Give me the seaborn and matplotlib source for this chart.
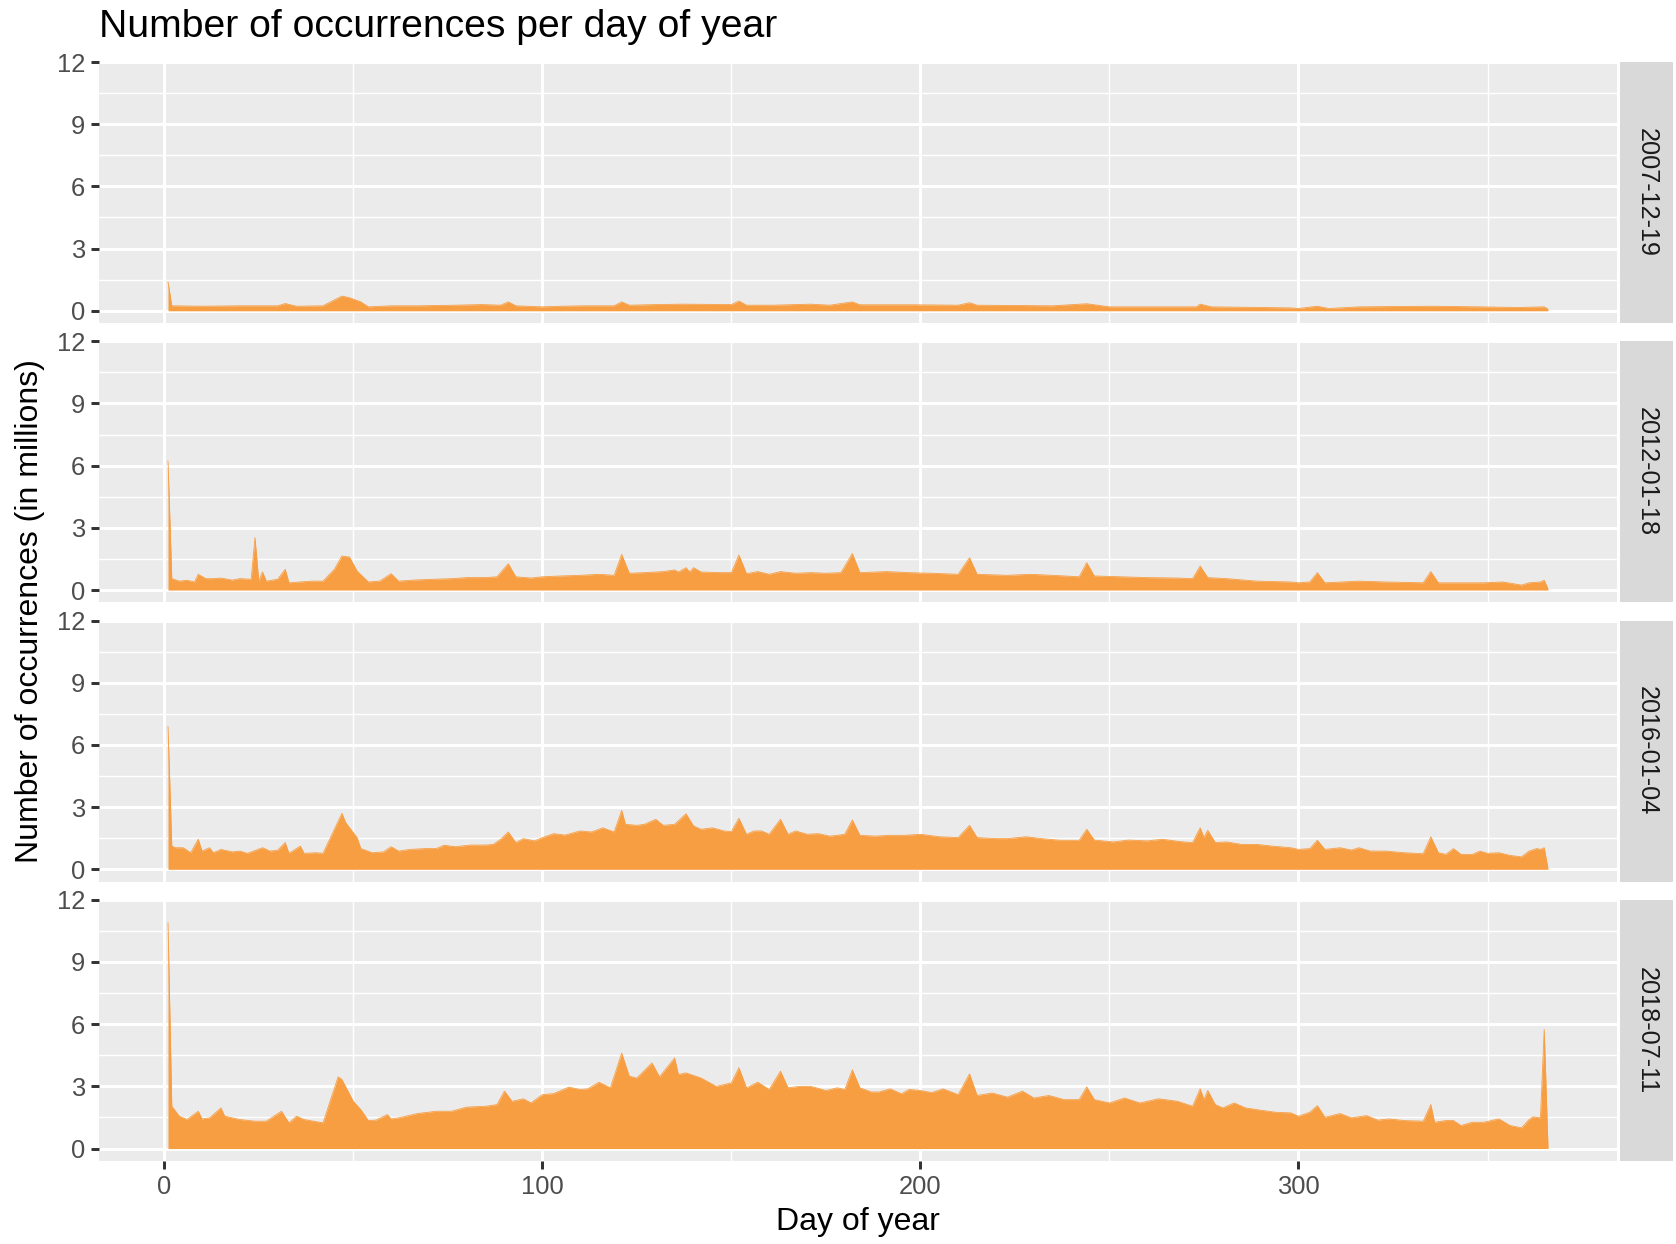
import matplotlib
matplotlib.use("Agg")
import matplotlib.pyplot as plt
from matplotlib.patches import Rectangle
from matplotlib.ticker import MultipleLocator
import seaborn as sns
import pandas as pd

# values (millions of occurrences per day of year)
dates = ["2007-12-19", "2012-01-18", "2016-01-04", "2018-07-11"]

days_2007 = [1, 2, 10, 20, 30, 32, 35, 42, 44, 47, 49, 52, 54, 60, 67, 77, 84, 89, 91, 93,
             100, 105, 111, 119, 121, 123, 130, 137, 150, 152, 154, 161, 171, 176, 182, 184,
             198, 210, 213, 215, 235, 244, 250, 273, 274, 277, 298, 300, 305, 308, 316, 335,
             348, 358, 365, 366]
vals_2007 = [1.4, 0.24, 0.22, 0.24, 0.24, 0.35, 0.22, 0.24, 0.43, 0.71, 0.63, 0.43, 0.19, 0.24,
             0.24, 0.27, 0.3, 0.27, 0.43, 0.24, 0.19, 0.22, 0.24, 0.24, 0.43, 0.27, 0.3, 0.32,
             0.3, 0.47, 0.27, 0.27, 0.32, 0.27, 0.43, 0.29, 0.29, 0.27, 0.39, 0.27, 0.24, 0.34,
             0.19, 0.19, 0.32, 0.19, 0.14, 0.11, 0.22, 0.11, 0.19, 0.22, 0.19, 0.16, 0.19, 0.08]

days_2012 = [1, 2, 4, 6, 8, 9, 11, 13, 15, 18, 20, 23, 24, 25, 26, 27, 30, 32, 33, 36, 39, 42,
             45, 47, 49, 51, 54, 57, 60, 62, 66, 71, 76, 80, 85, 88, 91, 93, 97, 100, 105, 110,
             115, 119, 121, 123, 127, 132, 135, 136, 138, 139, 140, 142, 147, 150, 152, 154,
             157, 160, 163, 167, 171, 175, 179, 182, 184, 191, 197, 203, 210, 213, 215, 223,
             229, 235, 242, 244, 246, 253, 260, 268, 272, 274, 276, 281, 289, 298, 300, 303,
             305, 307, 316, 323, 333, 335, 337, 343, 349, 354, 359, 361, 364, 365, 366]
vals_2012 = [6.23, 0.55, 0.43, 0.47, 0.39, 0.76, 0.55, 0.55, 0.58, 0.48, 0.55, 0.52, 2.53, 0.43,
             0.87, 0.43, 0.52, 1.0, 0.35, 0.39, 0.43, 0.43, 1.0, 1.64, 1.59, 0.92, 0.39, 0.43,
             0.79, 0.43, 0.48, 0.52, 0.55, 0.6, 0.6, 0.64, 1.27, 0.64, 0.58, 0.64, 0.68, 0.71,
             0.76, 0.71, 1.72, 0.81, 0.84, 0.89, 0.97, 0.87, 1.08, 0.87, 1.08, 0.87, 0.84, 0.84,
             1.69, 0.79, 0.89, 0.76, 0.89, 0.81, 0.84, 0.81, 0.84, 1.76, 0.84, 0.89, 0.84, 0.81,
             0.76, 1.56, 0.76, 0.71, 0.76, 0.71, 0.64, 1.32, 0.68, 0.64, 0.6, 0.58, 0.55, 1.16,
             0.6, 0.55, 0.43, 0.39, 0.35, 0.39, 0.84, 0.35, 0.43, 0.39, 0.35, 0.89, 0.35, 0.35,
             0.35, 0.39, 0.24, 0.35, 0.39, 0.47, 0.06]

days_2016 = [1, 2, 3, 5, 7, 9, 10, 12, 13, 15, 18, 20, 22, 26, 28, 30, 32, 33, 36, 37, 40, 42,
             45, 47, 48, 51, 52, 55, 58, 60, 62, 65, 69, 72, 74, 77, 81, 85, 87, 89, 91, 93, 95,
             98, 100, 103, 106, 110, 113, 116, 119, 121, 122, 125, 127, 130, 132, 135, 138, 140,
             142, 145, 148, 150, 152, 154, 156, 158, 160, 163, 165, 167, 170, 173, 176, 178, 180,
             182, 184, 188, 192, 196, 200, 205, 210, 213, 215, 220, 223, 228, 232, 237, 242, 244,
             246, 251, 255, 260, 264, 269, 272, 274, 275, 276, 278, 281, 285, 289, 293, 298, 300,
             303, 305, 307, 311, 314, 316, 319, 323, 328, 333, 335, 337, 339, 341, 343, 346, 348,
             350, 353, 356, 359, 361, 363, 364, 365, 366]
vals_2016 = [6.9, 1.12, 1.04, 1.04, 0.8, 1.45, 0.88, 1.04, 0.8, 0.96, 0.84, 0.88, 0.77, 1.04,
             0.88, 0.92, 1.29, 0.77, 1.12, 0.77, 0.8, 0.77, 1.93, 2.7, 2.25, 1.53, 1.0, 0.8, 0.84,
             1.09, 0.88, 0.96, 1.0, 1.0, 1.16, 1.09, 1.17, 1.17, 1.2, 1.45, 1.8, 1.29, 1.48, 1.37,
             1.53, 1.72, 1.65, 1.85, 1.8, 2.0, 1.8, 2.84, 2.17, 2.12, 2.17, 2.41, 2.12, 2.17, 2.68,
             2.09, 1.93, 2.0, 1.85, 1.82, 2.46, 1.69, 1.85, 1.85, 1.69, 2.41, 1.69, 1.85, 1.69,
             1.72, 1.6, 1.64, 1.69, 2.38, 1.64, 1.6, 1.64, 1.64, 1.69, 1.57, 1.53, 2.12, 1.53,
             1.48, 1.48, 1.57, 1.48, 1.4, 1.4, 1.93, 1.41, 1.32, 1.41, 1.37, 1.45, 1.33, 1.29, 2.0,
             1.53, 1.88, 1.29, 1.32, 1.2, 1.2, 1.12, 1.04, 0.96, 1.0, 1.4, 0.96, 1.04, 0.93, 1.04,
             0.88, 0.88, 0.8, 0.75, 1.57, 0.8, 0.72, 1.0, 0.72, 0.72, 0.88, 0.77, 0.8, 0.67, 0.6,
             0.88, 1.0, 0.96, 1.04, 0.03]

days_2018 = [1, 2, 4, 6, 9, 10, 12, 15, 16, 20, 24, 27, 31, 33, 35, 37, 42, 46, 47, 50, 52, 54,
             56, 59, 60, 62, 67, 72, 76, 80, 85, 88, 90, 92, 95, 97, 100, 103, 107, 110, 112, 115,
             118, 121, 123, 125, 129, 131, 135, 136, 138, 142, 146, 150, 152, 154, 157, 160, 163,
             165, 168, 171, 175, 178, 180, 182, 184, 187, 189, 192, 195, 197, 200, 203, 206, 210,
             213, 215, 219, 223, 227, 230, 234, 238, 242, 244, 246, 250, 254, 258, 263, 268, 272,
             274, 275, 276, 278, 280, 283, 286, 290, 294, 298, 300, 303, 305, 307, 311, 314, 318,
             321, 324, 328, 333, 335, 336, 339, 341, 343, 346, 349, 353, 356, 359, 361, 362, 364,
             365, 366]
vals_2018 = [10.9, 2.04, 1.56, 1.4, 1.8, 1.43, 1.48, 1.96, 1.56, 1.4, 1.32, 1.32, 1.8, 1.24,
             1.56, 1.4, 1.24, 3.46, 3.33, 2.28, 1.88, 1.35, 1.37, 1.64, 1.43, 1.48, 1.69, 1.8, 1.8,
             2.0, 2.04, 2.12, 2.77, 2.28, 2.4, 2.2, 2.6, 2.65, 2.96, 2.85, 2.88, 3.2, 2.93, 4.6,
             3.49, 3.4, 4.13, 3.46, 4.37, 3.57, 3.65, 3.4, 3.0, 3.17, 3.9, 2.93, 3.2, 2.85, 3.73,
             2.93, 3.0, 3.0, 2.8, 2.93, 2.85, 3.8, 2.93, 2.73, 2.73, 2.88, 2.64, 2.85, 2.8, 2.7,
             2.88, 2.6, 3.6, 2.56, 2.68, 2.48, 2.77, 2.44, 2.56, 2.36, 2.36, 2.97, 2.36, 2.2, 2.44,
             2.2, 2.4, 2.28, 2.04, 2.88, 2.36, 2.8, 2.12, 1.96, 2.2, 1.96, 1.85, 1.75, 1.72, 1.56,
             1.75, 2.07, 1.51, 1.69, 1.48, 1.59, 1.37, 1.43, 1.35, 1.32, 2.12, 1.27, 1.35, 1.35,
             1.11, 1.27, 1.27, 1.43, 1.11, 1.0, 1.4, 1.53, 1.48, 5.74, 0.05]

x_ticks = [0, 100, 200, 300]
y_ticks = [0, 3, 6, 9, 12]

series = {
    dates[0]: (days_2007, vals_2007),
    dates[1]: (days_2012, vals_2012),
    dates[2]: (days_2016, vals_2016),
    dates[3]: (days_2018, vals_2018),
}
df = pd.concat(
    [pd.DataFrame({"date": d, "day": x, "n": y}) for d, (x, y) in series.items()],
    ignore_index=True,
)

sns.set_theme(style="darkgrid")
plt.rcParams["font.family"] = ["Liberation Sans", "DejaVu Sans"]

W, H, DPI = 1676, 1244, 200
fill = "#F89E42"

fig, axes = plt.subplots(4, 1, figsize=(W / DPI, H / DPI), dpi=DPI, sharex=True)
fig.subplots_adjust(left=99 / W, right=1617 / W, top=1 - 62 / H, bottom=1 - 1161 / H,
                    hspace=0.069)

for i, (ax, d) in enumerate(zip(axes, dates)):
    sub = df[df["date"] == d]
    ax.fill_between(sub["day"], sub["n"], 0, color=fill, lw=0, zorder=2)
    sns.lineplot(data=sub, x="day", y="n", ax=ax, color=fill, lw=0.3, zorder=2)

    ax.set_facecolor("#EBEBEB")
    ax.set_xlim(-17.25, 384.25)
    ax.set_ylim(-0.6, 12.0)
    ax.set_xticks(x_ticks)
    ax.set_yticks(y_ticks)
    ax.xaxis.set_minor_locator(MultipleLocator(50))
    ax.yaxis.set_minor_locator(MultipleLocator(1.5))
    ax.grid(which="major", color="white", lw=1.07)
    ax.grid(which="minor", color="white", lw=0.53)
    ax.set_axisbelow(True)
    for s in ax.spines.values():
        s.set_visible(False)
    ax.tick_params(which="major", length=2.75, width=1.07, color="#333333",
                   labelsize=9.2, labelcolor="#4D4D4D", pad=2.2,
                   left=True, bottom=(i == 3))
    ax.tick_params(which="minor", length=0)
    ax.set_xlabel("")
    ax.set_ylabel("")

    # facet strip on the right
    pw = 1518
    ax.add_patch(Rectangle((1 + 3 / pw, 0), 53 / pw, 1, transform=ax.transAxes,
                           facecolor="#D9D9D9", edgecolor="none", clip_on=False))
    ax.text(1 + 29.5 / pw, 0.5, d, transform=ax.transAxes, rotation=-90,
            ha="center", va="center", fontsize=9.1, color="#1A1A1A")

fig.text(99 / W, 1 - 37 / H, "Number of occurrences per day of year",
         ha="left", va="baseline", fontsize=14.1, color="black")
fig.text(858 / W, 1 - 1222 / H, "Day of year", ha="center", va="center",
         fontsize=11.5, color="black")
fig.text(30 / W, 1 - 611 / H, "Number of occurrences (in millions)", ha="center",
         va="center", rotation=90, fontsize=11.5, color="black")

fig.savefig("out.png", dpi=DPI, facecolor="white")
